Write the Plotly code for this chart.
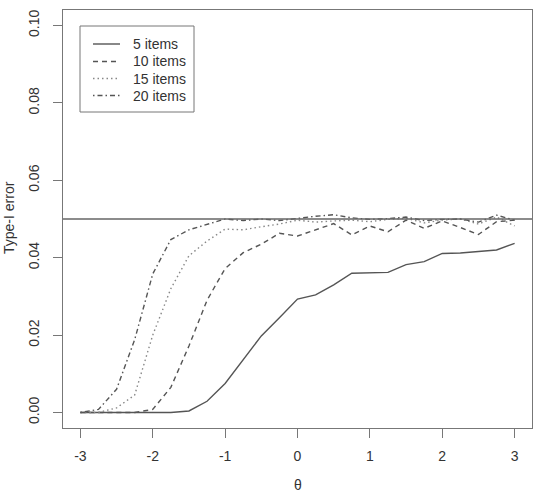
import plotly.graph_objects as go

theta = [-3.0, -2.75, -2.5, -2.25, -2.0, -1.75, -1.5, -1.25, -1.0, -0.75, -0.5, -0.25,
         0.0, 0.25, 0.5, 0.75, 1.0, 1.25, 1.5, 1.75, 2.0, 2.25, 2.5, 2.75, 3.0]

items5 = [0, 0, 0, 0, 0, 0, 0.0004, 0.0029, 0.0075, 0.0138, 0.0198, 0.0245,
          0.0293, 0.0304, 0.0330, 0.0360, 0.0361, 0.0362, 0.0382, 0.0390, 0.0411,
          0.0412, 0.0416, 0.0420, 0.0437]
items10 = [0, 0, 0, 0, 0.0008, 0.0065, 0.0172, 0.0290, 0.0372, 0.0413, 0.0435, 0.0463,
           0.0456, 0.0472, 0.0488, 0.0459, 0.0482, 0.0467, 0.0497, 0.0476, 0.0495,
           0.0478, 0.0460, 0.0493, 0.0497]
items15 = [0, 0, 0.0012, 0.0045, 0.0200, 0.0320, 0.0405, 0.0443, 0.0474, 0.0472, 0.0480,
           0.0487, 0.0497, 0.0492, 0.0495, 0.0497, 0.0493, 0.0499, 0.0502, 0.0490,
           0.0497, 0.0500, 0.0487, 0.0505, 0.0482]
items20 = [0, 0.0008, 0.0060, 0.0188, 0.0358, 0.0447, 0.0472, 0.0487, 0.0500, 0.0496,
           0.0500, 0.0496, 0.0502, 0.0507, 0.0511, 0.0503, 0.0499, 0.0501, 0.0505,
           0.0496, 0.0499, 0.0500, 0.0492, 0.0510, 0.0497]

series_names = ["5 items", "10 items", "15 items", "20 items"]
alpha_level = 0.05
x_ticks = [-3, -2, -1, 0, 1, 2, 3]
x_tick_labels = ["-3", "-2", "-1", "0", "1", "2", "3"]
y_ticks = [0.00, 0.02, 0.04, 0.06, 0.08, 0.10]
y_tick_labels = ["0.00", "0.02", "0.04", "0.06", "0.08", "0.10"]

LINE = "#555555"
TXT = "#333333"
FRAME = "#777777"
FONT = "Liberation Sans, Arial, sans-serif"

styles = [
    dict(color=LINE, width=1.4, dash="solid"),
    dict(color=LINE, width=1.4, dash="5px,4px"),
    dict(color="#888888", width=1.4, dash="1.5px,3px"),
    dict(color=LINE, width=1.4, dash="1.5px,3px,5px,3px"),
]

# plot area in pixels (for placing the hand-drawn legend box)
L, R, T, B = 63, 532, 10, 428


def px_x(p):
    return (p - L) / (R - L)


def px_y(p):
    return (B - p) / (B - T)


fig = go.Figure()
for name, ys, st in zip(series_names, [items5, items10, items15, items20], styles):
    fig.add_trace(go.Scatter(x=theta, y=ys, mode="lines", name=name, line=st,
                             showlegend=False))

fig.add_hline(y=alpha_level, line=dict(color="#666666", width=1.6))

# legend (R style box)
fig.add_shape(type="rect", xref="paper", yref="paper",
              x0=px_x(80), x1=px_x(194), y0=px_y(112), y1=px_y(26),
              line=dict(color=FRAME, width=1), fillcolor="white", layer="above")
row_y = [44, 61.5, 78.5, 95.5]
for name, st, ry in zip(series_names, styles, row_y):
    fig.add_shape(type="line", xref="paper", yref="paper",
                  x0=px_x(93), x1=px_x(120), y0=px_y(ry), y1=px_y(ry),
                  line=st, layer="above")
    fig.add_annotation(text=name, xref="paper", yref="paper", x=px_x(131), y=px_y(ry),
                       xanchor="left", yanchor="middle", showarrow=False,
                       font=dict(family=FONT, size=14, color=TXT))

fig.update_layout(
    width=543, height=494,
    margin=dict(l=L, r=543 - R, t=T, b=494 - B),
    paper_bgcolor="white", plot_bgcolor="white",
    font=dict(family=FONT, size=14, color=TXT),
    showlegend=False,
)

fig.update_xaxes(
    range=[-3.24, 3.24], tickmode="array", tickvals=x_ticks, ticktext=x_tick_labels,
    ticks="outside", ticklen=9, tickcolor=FRAME, tickwidth=1,
    showline=True, mirror=True, linecolor=FRAME, linewidth=1,
    showgrid=False, zeroline=False,
    tickfont=dict(family=FONT, size=14, color=TXT),
    ticklabelstandoff=6,
)
fig.update_yaxes(
    range=[-0.004, 0.104], tickmode="array", tickvals=y_ticks, ticktext=y_tick_labels,
    ticks="outside", ticklen=9, tickcolor=FRAME, tickwidth=1,
    showline=True, mirror=True, linecolor=FRAME, linewidth=1,
    showgrid=False, zeroline=False, tickangle=-90,
    tickfont=dict(family=FONT, size=14, color=TXT),
    ticklabelstandoff=8,
)

fig.add_annotation(text="θ", xref="paper", yref="paper", x=0.5, y=px_y(485),
                   xanchor="center", yanchor="middle", showarrow=False,
                   font=dict(family=FONT, size=14, color=TXT))
fig.add_annotation(text="Type-I error", xref="paper", yref="paper", x=px_x(9), y=px_y(218),
                   xanchor="center", yanchor="middle", showarrow=False, textangle=-90,
                   font=dict(family=FONT, size=14, color=TXT))

fig.write_html("out.html")
